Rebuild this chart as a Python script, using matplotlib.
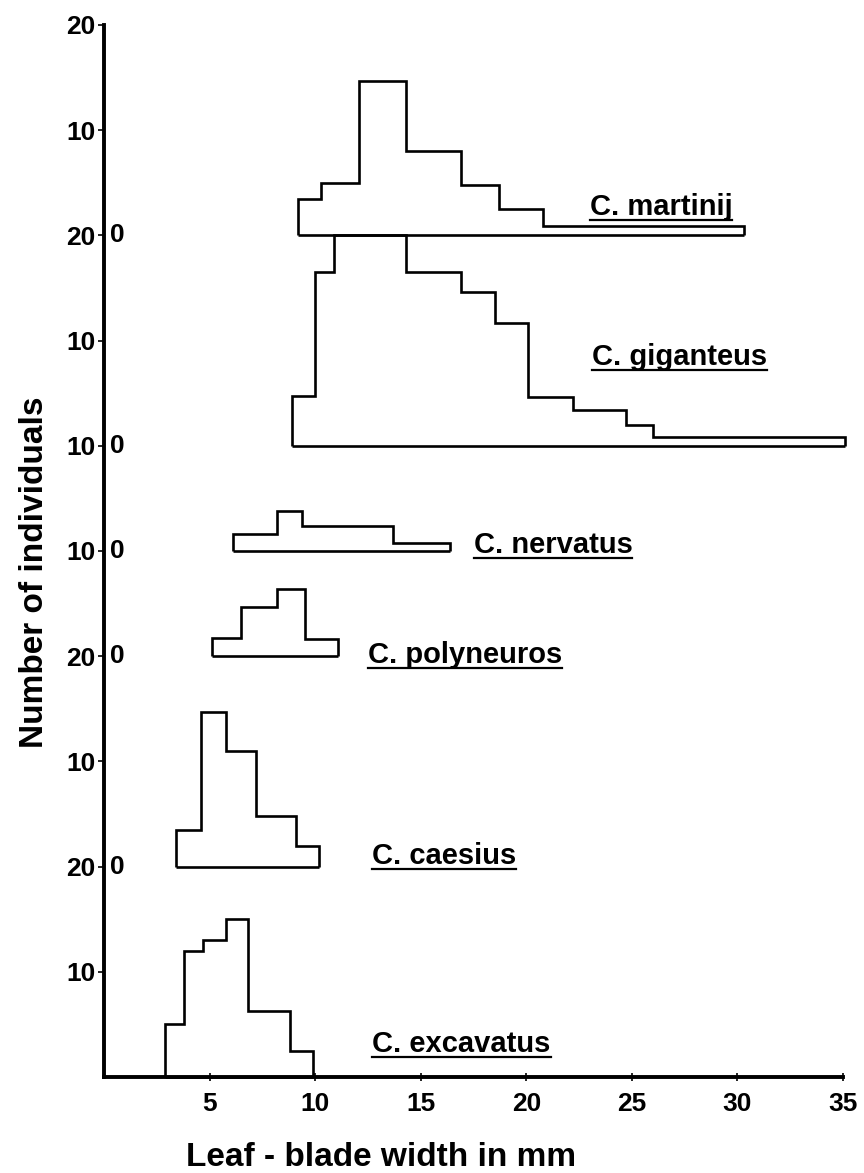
import matplotlib.pyplot as plt
from matplotlib.lines import Line2D
import numpy as np

plt.rcParams['font.family'] = ['Liberation Sans', 'DejaVu Sans']

# species from bottom panel to top panel
species = ['C. excavatus', 'C. caesius', 'C. polyneuros', 'C. nervatus', 'C. giganteus', 'C. martinij']
panel_max = [20, 20, 10, 10, 20, 20]

# bin edges (mm) and counts
excavatus_edges = [2.9, 3.8, 4.7, 5.8, 6.8, 8.8, 9.9]
excavatus_counts = [5, 12, 13, 15, 6.3, 2.5]

caesius_edges = [3.4, 4.6, 5.8, 7.2, 9.1, 10.2]
caesius_counts = [3.5, 14.7, 11, 4.8, 2]

polyneuros_edges = [5.1, 6.5, 8.2, 9.5, 11.1]
polyneuros_counts = [1.7, 4.7, 6.4, 1.6]

nervatus_edges = [6.1, 8.2, 9.4, 13.7, 16.4]
nervatus_counts = [1.6, 3.8, 2.4, 0.8]

giganteus_edges = [8.9, 10.0, 10.9, 14.3, 16.9, 18.5, 20.1, 22.2, 24.7, 26.0, 35.1]
giganteus_counts = [4.7, 16.5, 20, 16.5, 14.6, 11.7, 4.6, 3.4, 2.0, 0.8]

martinij_edges = [9.2, 10.3, 12.1, 14.3, 16.9, 18.7, 20.8, 30.3]
martinij_counts = [3.5, 5.0, 14.7, 8.0, 4.8, 2.5, 0.9]

x_ticks = [5, 10, 15, 20, 25, 30, 35]

edges = [excavatus_edges, caesius_edges, polyneuros_edges, nervatus_edges, giganteus_edges, martinij_edges]
counts = [excavatus_counts, caesius_counts, polyneuros_counts, nervatus_counts, giganteus_counts, martinij_counts]

# label placement (x in mm, y relative to panel baseline)
label_pos = [(12.7, 2.4), (12.7, 0.2), (12.5, -0.6), (17.5, -0.2), (23.1, 7.7), (23.0, 1.9)]

offsets = np.concatenate([[0], np.cumsum(panel_max)[:-1]])
top = sum(panel_max)

fig = plt.figure(figsize=(8.64, 11.73), dpi=100)
ax = fig.add_axes([104 / 864, 1 - 1077 / 1173, (843 - 104) / 864, (1077 - 25) / 1173])

for e, c, off in zip(edges, counts, offsets):
    ax.stairs(np.array(c) + off, e, baseline=off, fill=False, color='black', lw=1.9, clip_on=False)
    ax.plot([e[0], e[-1]], [off, off], color='black', lw=1.9, clip_on=False, solid_capstyle='butt')

ax.set_xlim(0, 35)
ax.set_ylim(0, top)
for s in ['top', 'right']:
    ax.spines[s].set_visible(False)
for s in ['left', 'bottom']:
    ax.spines[s].set_linewidth(2.8)

ax.set_xticks(x_ticks)
ax.set_xticklabels([str(t) for t in x_ticks], fontsize=19, fontweight='bold')
ax.tick_params(axis='x', direction='inout', length=6, width=1.2, pad=8)

# y ticks: every 10 within each panel, labels restart per panel
yt, yl = [], []
for off, m in zip(offsets, panel_max):
    for v in range(10, m + 1, 10):
        yt.append(off + v)
        yl.append(str(v))
ax.set_yticks(yt)
ax.set_yticklabels(yl, fontsize=19, fontweight='bold')
ax.tick_params(axis='y', direction='out', length=4, width=1.2, pad=2)

# zero of each upper panel, written just right of the axis
for off in offsets[1:]:
    ax.text(0.008, off, '0', transform=ax.get_yaxis_transform(), fontsize=19,
            fontweight='bold', va='center', ha='left')

texts = []
for name, (lx, ly), off in zip(species, label_pos, offsets):
    t = ax.text(lx, off + ly, name, fontsize=21, fontweight='bold', va='baseline', ha='left')
    texts.append(t)

fig.text(35 / 864, 1 - 572 / 1173, 'Number of individuals', rotation=90, fontsize=24,
         fontweight='bold', ha='center', va='center')
fig.text(381 / 864, 1 - 1157 / 1173, 'Leaf - blade width in mm', fontsize=24,
         fontweight='bold', ha='center', va='center')

# underline the species names
fig.canvas.draw()
r = fig.canvas.get_renderer()
W, H = fig.bbox.width, fig.bbox.height
for t in texts:
    bb = t.get_window_extent(r)
    bx, by = ax.transData.transform(t.get_position())
    uy = by - 5
    fig.add_artist(Line2D([bb.x0 / W, bb.x1 / W], [uy / H, uy / H], color='black', lw=1.6,
                          transform=fig.transFigure))

fig.savefig('out.png', dpi=100, facecolor='white')
